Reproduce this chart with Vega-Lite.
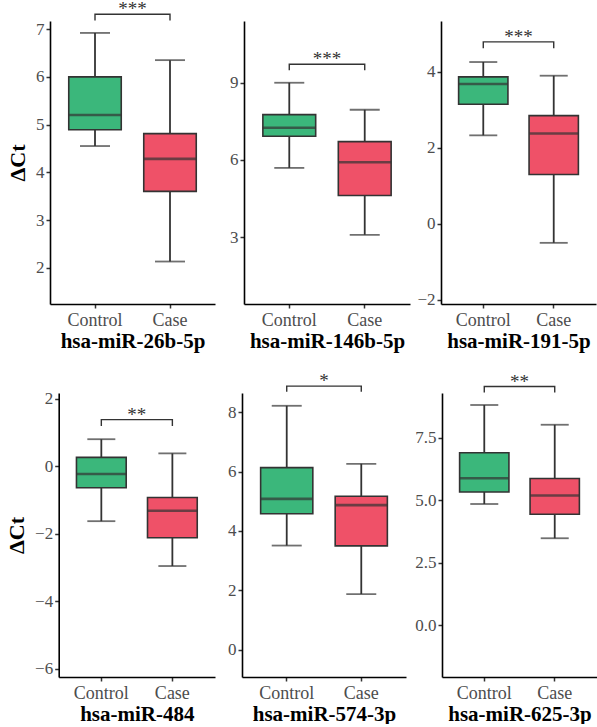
{
 "$schema": "https://vega.github.io/schema/vega-lite/v6.json",
 "padding": {"left": 5, "top": 0, "right": 0, "bottom": 0},
 "background": "white",
 "datasets": {
  "boxes": [
   {"gene": "hsa-miR-26b-5p", "group": "Control", "lower": 4.55, "q1": 4.89, "median": 5.2, "q3": 6.0, "upper": 6.92},
   {"gene": "hsa-miR-26b-5p", "group": "Case", "lower": 2.13, "q1": 3.6, "median": 4.28, "q3": 4.81, "upper": 6.35},
   {"gene": "hsa-miR-146b-5p", "group": "Control", "lower": 5.69, "q1": 6.92, "median": 7.25, "q3": 7.76, "upper": 9.0},
   {"gene": "hsa-miR-146b-5p", "group": "Case", "lower": 3.09, "q1": 4.62, "median": 5.91, "q3": 6.71, "upper": 7.95},
   {"gene": "hsa-miR-191-5p", "group": "Control", "lower": 2.33, "q1": 3.15, "median": 3.68, "q3": 3.87, "upper": 4.26},
   {"gene": "hsa-miR-191-5p", "group": "Case", "lower": -0.5, "q1": 1.3, "median": 2.38, "q3": 2.85, "upper": 3.9},
   {"gene": "hsa-miR-484", "group": "Control", "lower": -1.63, "q1": -0.64, "median": -0.23, "q3": 0.26, "upper": 0.8},
   {"gene": "hsa-miR-484", "group": "Case", "lower": -2.96, "q1": -2.12, "median": -1.32, "q3": -0.93, "upper": 0.38},
   {"gene": "hsa-miR-574-3p", "group": "Control", "lower": 3.51, "q1": 4.58, "median": 5.08, "q3": 6.13, "upper": 8.21},
   {"gene": "hsa-miR-574-3p", "group": "Case", "lower": 1.88, "q1": 3.5, "median": 4.87, "q3": 5.17, "upper": 6.26},
   {"gene": "hsa-miR-625-3p", "group": "Control", "lower": 4.85, "q1": 5.33, "median": 5.88, "q3": 6.9, "upper": 8.81},
   {"gene": "hsa-miR-625-3p", "group": "Case", "lower": 3.48, "q1": 4.44, "median": 5.19, "q3": 5.87, "upper": 8.02}
  ],
  "sig": [
   {"gene": "hsa-miR-26b-5p", "group": "Control", "order": 1, "value": 7.18, "label": "***"},
   {"gene": "hsa-miR-26b-5p", "group": "Control", "order": 2, "value": 7.31, "label": "***"},
   {"gene": "hsa-miR-26b-5p", "group": "Case", "order": 3, "value": 7.31, "label": "***"},
   {"gene": "hsa-miR-26b-5p", "group": "Case", "order": 4, "value": 7.18, "label": "***"},
   {"gene": "hsa-miR-146b-5p", "group": "Control", "order": 1, "value": 9.49, "label": "***"},
   {"gene": "hsa-miR-146b-5p", "group": "Control", "order": 2, "value": 9.72, "label": "***"},
   {"gene": "hsa-miR-146b-5p", "group": "Case", "order": 3, "value": 9.72, "label": "***"},
   {"gene": "hsa-miR-146b-5p", "group": "Case", "order": 4, "value": 9.49, "label": "***"},
   {"gene": "hsa-miR-191-5p", "group": "Control", "order": 1, "value": 4.62, "label": "***"},
   {"gene": "hsa-miR-191-5p", "group": "Control", "order": 2, "value": 4.79, "label": "***"},
   {"gene": "hsa-miR-191-5p", "group": "Case", "order": 3, "value": 4.79, "label": "***"},
   {"gene": "hsa-miR-191-5p", "group": "Case", "order": 4, "value": 4.62, "label": "***"},
   {"gene": "hsa-miR-484", "group": "Control", "order": 1, "value": 1.19, "label": "**"},
   {"gene": "hsa-miR-484", "group": "Control", "order": 2, "value": 1.38, "label": "**"},
   {"gene": "hsa-miR-484", "group": "Case", "order": 3, "value": 1.38, "label": "**"},
   {"gene": "hsa-miR-484", "group": "Case", "order": 4, "value": 1.19, "label": "**"},
   {"gene": "hsa-miR-574-3p", "group": "Control", "order": 1, "value": 8.68, "label": "*"},
   {"gene": "hsa-miR-574-3p", "group": "Control", "order": 2, "value": 8.87, "label": "*"},
   {"gene": "hsa-miR-574-3p", "group": "Case", "order": 3, "value": 8.87, "label": "*"},
   {"gene": "hsa-miR-574-3p", "group": "Case", "order": 4, "value": 8.68, "label": "*"},
   {"gene": "hsa-miR-625-3p", "group": "Control", "order": 1, "value": 9.31, "label": "**"},
   {"gene": "hsa-miR-625-3p", "group": "Control", "order": 2, "value": 9.55, "label": "**"},
   {"gene": "hsa-miR-625-3p", "group": "Case", "order": 3, "value": 9.55, "label": "**"},
   {"gene": "hsa-miR-625-3p", "group": "Case", "order": 4, "value": 9.31, "label": "**"}
  ]
 },
 "columns": 3,
 "align": {"row": "all", "column": "none"},
 "spacing": {"row": 20, "column": 6},
 "concat": [
    {
     "width": 165, "height": 283,
     "encoding": {"x": {"field": "group", "type": "nominal", "sort": ["Control", "Case"], "scale": {"type": "band", "paddingInner": 0, "paddingOuter": 0.1}, "title": "hsa-miR-26b-5p"}},
     "layer": [
      {"data": {"name": "boxes"}, "transform": [{"filter": "datum.gene === 'hsa-miR-26b-5p'"}], "mark": {"type": "rule", "color": "#333333", "strokeWidth": 1.8},
       "encoding": {"y": {"field": "lower", "type": "quantitative", "title": "ΔCt", "scale": {"domain": [1.24, 7.17], "nice": false, "zero": false}, "axis": {"values": [2, 3, 4, 5, 6, 7], "titlePadding": 6}}, "y2": {"field": "upper"}}},
      {"data": {"name": "boxes"}, "transform": [{"filter": "datum.gene === 'hsa-miR-26b-5p'"}], "mark": {"type": "tick", "size": 30, "thickness": 1.8, "color": "#333333"},
       "encoding": {"y": {"field": "lower", "type": "quantitative", "title": "ΔCt"}}},
      {"data": {"name": "boxes"}, "transform": [{"filter": "datum.gene === 'hsa-miR-26b-5p'"}], "mark": {"type": "tick", "size": 30, "thickness": 1.8, "color": "#333333"},
       "encoding": {"y": {"field": "upper", "type": "quantitative", "title": "ΔCt"}}},
      {"data": {"name": "boxes"}, "transform": [{"filter": "datum.gene === 'hsa-miR-26b-5p'"}], "mark": {"type": "bar", "width": {"band": 0.7}, "stroke": "#333333", "strokeWidth": 1.6, "opacity": 1},
       "encoding": {"y": {"field": "q1", "type": "quantitative", "title": "ΔCt"}, "y2": {"field": "q3"}, "color": {"field": "group", "type": "nominal", "scale": {"domain": ["Control", "Case"], "range": ["#3bb77b", "#ef5168"]}, "legend": null}}},
      {"data": {"name": "boxes"}, "transform": [{"filter": "datum.gene === 'hsa-miR-26b-5p'"}], "mark": {"type": "tick", "size": 52, "thickness": 2.6, "color": "#333333"},
       "encoding": {"y": {"field": "median", "type": "quantitative", "title": "ΔCt"}}},
      {"data": {"name": "sig"}, "transform": [{"filter": "datum.gene === 'hsa-miR-26b-5p'"}], "mark": {"type": "line", "color": "#333333", "strokeWidth": 1.4},
       "encoding": {"y": {"field": "value", "type": "quantitative", "title": "ΔCt"}, "order": {"field": "order", "type": "quantitative"}}},
      {"data": {"name": "sig"}, "transform": [{"filter": "datum.gene === 'hsa-miR-26b-5p' && datum.order === 2"}], "mark": {"type": "text", "font": "Liberation Serif", "fontSize": 19, "color": "#333333", "baseline": "alphabetic", "dy": 1},
       "encoding": {"x": {"field": "group", "type": "nominal", "bandPosition": 1, "title": "hsa-miR-26b-5p"}, "y": {"field": "value", "type": "quantitative", "title": "ΔCt"}, "text": {"field": "label"}}}
     ]
    },
    {
     "width": 166, "height": 283,
     "encoding": {"x": {"field": "group", "type": "nominal", "sort": ["Control", "Case"], "scale": {"type": "band", "paddingInner": 0, "paddingOuter": 0.1}, "title": "hsa-miR-146b-5p"}},
     "layer": [
      {"data": {"name": "boxes"}, "transform": [{"filter": "datum.gene === 'hsa-miR-146b-5p'"}], "mark": {"type": "rule", "color": "#333333", "strokeWidth": 1.8},
       "encoding": {"y": {"field": "lower", "type": "quantitative", "title": null, "scale": {"domain": [0.4, 11.4], "nice": false, "zero": false}, "axis": {"values": [3, 6, 9], "minExtent": 23}}, "y2": {"field": "upper"}}},
      {"data": {"name": "boxes"}, "transform": [{"filter": "datum.gene === 'hsa-miR-146b-5p'"}], "mark": {"type": "tick", "size": 30, "thickness": 1.8, "color": "#333333"},
       "encoding": {"y": {"field": "lower", "type": "quantitative", "title": null}}},
      {"data": {"name": "boxes"}, "transform": [{"filter": "datum.gene === 'hsa-miR-146b-5p'"}], "mark": {"type": "tick", "size": 30, "thickness": 1.8, "color": "#333333"},
       "encoding": {"y": {"field": "upper", "type": "quantitative", "title": null}}},
      {"data": {"name": "boxes"}, "transform": [{"filter": "datum.gene === 'hsa-miR-146b-5p'"}], "mark": {"type": "bar", "width": {"band": 0.7}, "stroke": "#333333", "strokeWidth": 1.6, "opacity": 1},
       "encoding": {"y": {"field": "q1", "type": "quantitative", "title": null}, "y2": {"field": "q3"}, "color": {"field": "group", "type": "nominal", "scale": {"domain": ["Control", "Case"], "range": ["#3bb77b", "#ef5168"]}, "legend": null}}},
      {"data": {"name": "boxes"}, "transform": [{"filter": "datum.gene === 'hsa-miR-146b-5p'"}], "mark": {"type": "tick", "size": 53, "thickness": 2.6, "color": "#333333"},
       "encoding": {"y": {"field": "median", "type": "quantitative", "title": null}}},
      {"data": {"name": "sig"}, "transform": [{"filter": "datum.gene === 'hsa-miR-146b-5p'"}], "mark": {"type": "line", "color": "#333333", "strokeWidth": 1.4},
       "encoding": {"y": {"field": "value", "type": "quantitative", "title": null}, "order": {"field": "order", "type": "quantitative"}}},
      {"data": {"name": "sig"}, "transform": [{"filter": "datum.gene === 'hsa-miR-146b-5p' && datum.order === 2"}], "mark": {"type": "text", "font": "Liberation Serif", "fontSize": 19, "color": "#333333", "baseline": "alphabetic", "dy": 1},
       "encoding": {"x": {"field": "group", "type": "nominal", "bandPosition": 1, "title": "hsa-miR-146b-5p"}, "y": {"field": "value", "type": "quantitative", "title": null}, "text": {"field": "label"}}}
     ]
    },
    {
     "width": 155, "height": 283,
     "encoding": {"x": {"field": "group", "type": "nominal", "sort": ["Control", "Case"], "scale": {"type": "band", "paddingInner": 0, "paddingOuter": 0.1}, "title": "hsa-miR-191-5p"}},
     "layer": [
      {"data": {"name": "boxes"}, "transform": [{"filter": "datum.gene === 'hsa-miR-191-5p'"}], "mark": {"type": "rule", "color": "#333333", "strokeWidth": 1.8},
       "encoding": {"y": {"field": "lower", "type": "quantitative", "title": null, "scale": {"domain": [-2.11, 5.34], "nice": false, "zero": false}, "axis": {"values": [-2, 0, 2, 4], "minExtent": 25}}, "y2": {"field": "upper"}}},
      {"data": {"name": "boxes"}, "transform": [{"filter": "datum.gene === 'hsa-miR-191-5p'"}], "mark": {"type": "tick", "size": 28, "thickness": 1.8, "color": "#333333"},
       "encoding": {"y": {"field": "lower", "type": "quantitative", "title": null}}},
      {"data": {"name": "boxes"}, "transform": [{"filter": "datum.gene === 'hsa-miR-191-5p'"}], "mark": {"type": "tick", "size": 28, "thickness": 1.8, "color": "#333333"},
       "encoding": {"y": {"field": "upper", "type": "quantitative", "title": null}}},
      {"data": {"name": "boxes"}, "transform": [{"filter": "datum.gene === 'hsa-miR-191-5p'"}], "mark": {"type": "bar", "width": {"band": 0.7}, "stroke": "#333333", "strokeWidth": 1.6, "opacity": 1},
       "encoding": {"y": {"field": "q1", "type": "quantitative", "title": null}, "y2": {"field": "q3"}, "color": {"field": "group", "type": "nominal", "scale": {"domain": ["Control", "Case"], "range": ["#3bb77b", "#ef5168"]}, "legend": null}}},
      {"data": {"name": "boxes"}, "transform": [{"filter": "datum.gene === 'hsa-miR-191-5p'"}], "mark": {"type": "tick", "size": 49, "thickness": 2.6, "color": "#333333"},
       "encoding": {"y": {"field": "median", "type": "quantitative", "title": null}}},
      {"data": {"name": "sig"}, "transform": [{"filter": "datum.gene === 'hsa-miR-191-5p'"}], "mark": {"type": "line", "color": "#333333", "strokeWidth": 1.4},
       "encoding": {"y": {"field": "value", "type": "quantitative", "title": null}, "order": {"field": "order", "type": "quantitative"}}},
      {"data": {"name": "sig"}, "transform": [{"filter": "datum.gene === 'hsa-miR-191-5p' && datum.order === 2"}], "mark": {"type": "text", "font": "Liberation Serif", "fontSize": 19, "color": "#333333", "baseline": "alphabetic", "dy": 1},
       "encoding": {"x": {"field": "group", "type": "nominal", "bandPosition": 1, "title": "hsa-miR-191-5p"}, "y": {"field": "value", "type": "quantitative", "title": null}, "text": {"field": "label"}}}
     ]
    },
    {
     "width": 165, "height": 284,
     "encoding": {"x": {"field": "group", "type": "nominal", "sort": ["Control", "Case"], "scale": {"type": "band", "paddingInner": 0, "paddingOuter": 0.1, "range": [8.7, 165]}, "title": "hsa-miR-484"}},
     "layer": [
      {"data": {"name": "boxes"}, "transform": [{"filter": "datum.gene === 'hsa-miR-484'"}], "mark": {"type": "rule", "color": "#333333", "strokeWidth": 1.8},
       "encoding": {"y": {"field": "lower", "type": "quantitative", "title": "ΔCt", "scale": {"domain": [-6.25, 2.17], "nice": false, "zero": false}, "axis": {"values": [-6, -4, -2, 0, 2], "titlePadding": 6, "offset": -8.7}}, "y2": {"field": "upper"}}},
      {"data": {"name": "boxes"}, "transform": [{"filter": "datum.gene === 'hsa-miR-484'"}], "mark": {"type": "tick", "size": 28, "thickness": 1.8, "color": "#333333"},
       "encoding": {"y": {"field": "lower", "type": "quantitative", "title": "ΔCt"}}},
      {"data": {"name": "boxes"}, "transform": [{"filter": "datum.gene === 'hsa-miR-484'"}], "mark": {"type": "tick", "size": 28, "thickness": 1.8, "color": "#333333"},
       "encoding": {"y": {"field": "upper", "type": "quantitative", "title": "ΔCt"}}},
      {"data": {"name": "boxes"}, "transform": [{"filter": "datum.gene === 'hsa-miR-484'"}], "mark": {"type": "bar", "width": {"band": 0.7}, "stroke": "#333333", "strokeWidth": 1.6, "opacity": 1},
       "encoding": {"y": {"field": "q1", "type": "quantitative", "title": "ΔCt"}, "y2": {"field": "q3"}, "color": {"field": "group", "type": "nominal", "scale": {"domain": ["Control", "Case"], "range": ["#3bb77b", "#ef5168"]}, "legend": null}}},
      {"data": {"name": "boxes"}, "transform": [{"filter": "datum.gene === 'hsa-miR-484'"}], "mark": {"type": "tick", "size": 50, "thickness": 2.6, "color": "#333333"},
       "encoding": {"y": {"field": "median", "type": "quantitative", "title": "ΔCt"}}},
      {"data": {"name": "sig"}, "transform": [{"filter": "datum.gene === 'hsa-miR-484'"}], "mark": {"type": "line", "color": "#333333", "strokeWidth": 1.4},
       "encoding": {"y": {"field": "value", "type": "quantitative", "title": "ΔCt"}, "order": {"field": "order", "type": "quantitative"}}},
      {"data": {"name": "sig"}, "transform": [{"filter": "datum.gene === 'hsa-miR-484' && datum.order === 2"}], "mark": {"type": "text", "font": "Liberation Serif", "fontSize": 19, "color": "#333333", "baseline": "alphabetic", "dy": 1},
       "encoding": {"x": {"field": "group", "type": "nominal", "bandPosition": 1, "title": "hsa-miR-484"}, "y": {"field": "value", "type": "quantitative", "title": "ΔCt"}, "text": {"field": "label"}}}
     ]
    },
    {
     "width": 164, "height": 284,
     "encoding": {"x": {"field": "group", "type": "nominal", "sort": ["Control", "Case"], "scale": {"type": "band", "paddingInner": 0, "paddingOuter": 0.1}, "title": "hsa-miR-574-3p"}},
     "layer": [
      {"data": {"name": "boxes"}, "transform": [{"filter": "datum.gene === 'hsa-miR-574-3p'"}], "mark": {"type": "rule", "color": "#333333", "strokeWidth": 1.8},
       "encoding": {"y": {"field": "lower", "type": "quantitative", "title": null, "scale": {"domain": [-0.91, 8.64], "nice": false, "zero": false}, "axis": {"values": [0, 2, 4, 6, 8], "minExtent": 21}}, "y2": {"field": "upper"}}},
      {"data": {"name": "boxes"}, "transform": [{"filter": "datum.gene === 'hsa-miR-574-3p'"}], "mark": {"type": "tick", "size": 30, "thickness": 1.8, "color": "#333333"},
       "encoding": {"y": {"field": "lower", "type": "quantitative", "title": null}}},
      {"data": {"name": "boxes"}, "transform": [{"filter": "datum.gene === 'hsa-miR-574-3p'"}], "mark": {"type": "tick", "size": 30, "thickness": 1.8, "color": "#333333"},
       "encoding": {"y": {"field": "upper", "type": "quantitative", "title": null}}},
      {"data": {"name": "boxes"}, "transform": [{"filter": "datum.gene === 'hsa-miR-574-3p'"}], "mark": {"type": "bar", "width": {"band": 0.7}, "stroke": "#333333", "strokeWidth": 1.6, "opacity": 1},
       "encoding": {"y": {"field": "q1", "type": "quantitative", "title": null}, "y2": {"field": "q3"}, "color": {"field": "group", "type": "nominal", "scale": {"domain": ["Control", "Case"], "range": ["#3bb77b", "#ef5168"]}, "legend": null}}},
      {"data": {"name": "boxes"}, "transform": [{"filter": "datum.gene === 'hsa-miR-574-3p'"}], "mark": {"type": "tick", "size": 52, "thickness": 2.6, "color": "#333333"},
       "encoding": {"y": {"field": "median", "type": "quantitative", "title": null}}},
      {"data": {"name": "sig"}, "transform": [{"filter": "datum.gene === 'hsa-miR-574-3p'"}], "mark": {"type": "line", "color": "#333333", "strokeWidth": 1.4},
       "encoding": {"y": {"field": "value", "type": "quantitative", "title": null}, "order": {"field": "order", "type": "quantitative"}}},
      {"data": {"name": "sig"}, "transform": [{"filter": "datum.gene === 'hsa-miR-574-3p' && datum.order === 2"}], "mark": {"type": "text", "font": "Liberation Serif", "fontSize": 19, "color": "#333333", "baseline": "alphabetic", "dy": 1},
       "encoding": {"x": {"field": "group", "type": "nominal", "bandPosition": 1, "title": "hsa-miR-574-3p"}, "y": {"field": "value", "type": "quantitative", "title": null}, "text": {"field": "label"}}}
     ]
    },
    {
     "width": 155, "height": 284,
     "encoding": {"x": {"field": "group", "type": "nominal", "sort": ["Control", "Case"], "scale": {"type": "band", "paddingInner": 0, "paddingOuter": 0.1}, "title": "hsa-miR-625-3p"}},
     "layer": [
      {"data": {"name": "boxes"}, "transform": [{"filter": "datum.gene === 'hsa-miR-625-3p'"}], "mark": {"type": "rule", "color": "#333333", "strokeWidth": 1.8},
       "encoding": {"y": {"field": "lower", "type": "quantitative", "title": null, "scale": {"domain": [-2.07, 9.29], "nice": false, "zero": false}, "axis": {"values": [0, 2.5, 5, 7.5], "format": ".1f"}}, "y2": {"field": "upper"}}},
      {"data": {"name": "boxes"}, "transform": [{"filter": "datum.gene === 'hsa-miR-625-3p'"}], "mark": {"type": "tick", "size": 28, "thickness": 1.8, "color": "#333333"},
       "encoding": {"y": {"field": "lower", "type": "quantitative", "title": null}}},
      {"data": {"name": "boxes"}, "transform": [{"filter": "datum.gene === 'hsa-miR-625-3p'"}], "mark": {"type": "tick", "size": 28, "thickness": 1.8, "color": "#333333"},
       "encoding": {"y": {"field": "upper", "type": "quantitative", "title": null}}},
      {"data": {"name": "boxes"}, "transform": [{"filter": "datum.gene === 'hsa-miR-625-3p'"}], "mark": {"type": "bar", "width": {"band": 0.7}, "stroke": "#333333", "strokeWidth": 1.6, "opacity": 1},
       "encoding": {"y": {"field": "q1", "type": "quantitative", "title": null}, "y2": {"field": "q3"}, "color": {"field": "group", "type": "nominal", "scale": {"domain": ["Control", "Case"], "range": ["#3bb77b", "#ef5168"]}, "legend": null}}},
      {"data": {"name": "boxes"}, "transform": [{"filter": "datum.gene === 'hsa-miR-625-3p'"}], "mark": {"type": "tick", "size": 49, "thickness": 2.6, "color": "#333333"},
       "encoding": {"y": {"field": "median", "type": "quantitative", "title": null}}},
      {"data": {"name": "sig"}, "transform": [{"filter": "datum.gene === 'hsa-miR-625-3p'"}], "mark": {"type": "line", "color": "#333333", "strokeWidth": 1.4},
       "encoding": {"y": {"field": "value", "type": "quantitative", "title": null}, "order": {"field": "order", "type": "quantitative"}}},
      {"data": {"name": "sig"}, "transform": [{"filter": "datum.gene === 'hsa-miR-625-3p' && datum.order === 2"}], "mark": {"type": "text", "font": "Liberation Serif", "fontSize": 19, "color": "#333333", "baseline": "alphabetic", "dy": 1},
       "encoding": {"x": {"field": "group", "type": "nominal", "bandPosition": 1, "title": "hsa-miR-625-3p"}, "y": {"field": "value", "type": "quantitative", "title": null}, "text": {"field": "label"}}}
     ]
    }
 ],
 "config": {
  "view": {"stroke": null},
  "font": "Liberation Serif",
  "axis": {"grid": false, "domainColor": "black", "domainWidth": 1.6, "tickColor": "#333333", "tickWidth": 1.5, "tickSize": 4, "labelColor": "#4d4d4d", "labelFont": "Liberation Serif", "labelFontSize": 17, "labelPadding": 2, "titleFont": "Liberation Serif", "titleFontSize": 21, "titleFontWeight": "bold", "titleColor": "black"},
  "axisX": {"labelAngle": 0, "labelFontSize": 18, "labelPadding": 3, "titlePadding": 1},
  "axisY": {"titleFontSize": 22, "titlePadding": 8}
 }
}
